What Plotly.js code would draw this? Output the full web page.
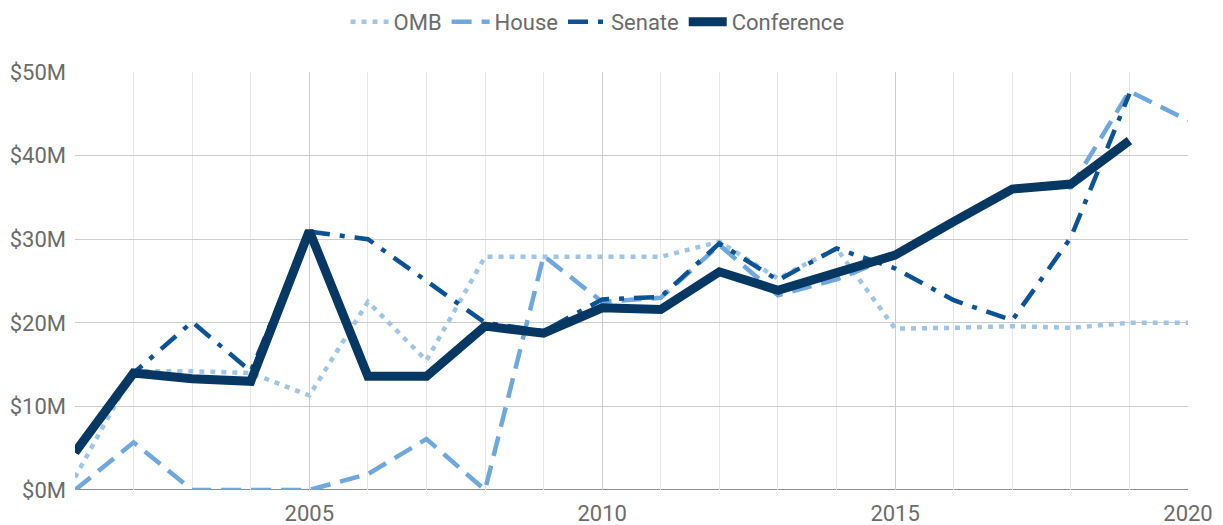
<!DOCTYPE html>
<html>
<head>
<meta charset="utf-8">
<script src="https://cdn.plot.ly/plotly-3.0.1.min.js"></script>
<style>html,body{margin:0;padding:0;background:#fff;}#chart{width:1223px;height:525px;}</style>
</head>
<body>
<div id="chart"></div>
<script>
const years = [2001,2002,2003,2004,2005,2006,2007,2008,2009,2010,2011,2012,2013,2014,2015,2016,2017,2018,2019,2020];
const omb        = [1.5,14.2,14.2,14.0,11.3,22.5,15.5,27.9,27.9,27.9,27.9,29.7,25.3,28.9,19.3,19.4,19.6,19.4,20.0,20.0];
const house      = [0,5.7,0,0,0,1.9,6.1,0,28.0,22.5,23.0,29.3,23.3,25.2,28.0,32.0,36.0,36.2,47.7,44.2];
const senate     = [4.5,14.0,20.1,14.2,30.9,30.0,25.0,20.0,19.0,22.8,23.1,29.5,25.1,28.9,26.5,22.7,20.3,30.2,47.4,null];
const conference = [4.5,14.0,13.3,13.0,31.0,13.6,13.6,19.6,18.75,21.8,21.6,26.1,23.9,25.9,28.1,32.1,36.0,36.6,41.8,null];
const seriesNames = ['OMB','House','Senate','Conference'];
const yTicks = [0,10,20,30,40,50];
const yTickText = ['$0M','$10M','$20M','$30M','$40M','$50M'];

const traces = [
  {x: years, y: omb, name: seriesNames[0], mode: 'lines', line: {color: '#9fc5e8', width: 4.5, dash: '5px,6px'}},
  {x: years, y: house, name: seriesNames[1], mode: 'lines', line: {color: '#6fa8dc', width: 4.5, dash: '20px,10px'}},
  {x: years, y: senate, name: seriesNames[2], mode: 'lines', line: {color: '#0b5394', width: 4.5, dash: '20px,10px,5px,10px'}},
  {x: years, y: conference, name: seriesNames[3], mode: 'lines', line: {color: '#073763', width: 9}}
];

const layout = {
  width: 1223, height: 525,
  margin: {l: 75, r: 35, t: 72, b: 35},
  paper_bgcolor: '#fff', plot_bgcolor: '#fff',
  font: {family: 'Roboto, sans-serif', size: 22, color: '#6b6b6b'},
  showlegend: true,
  legend: {orientation: 'h', x: 0.4886, xanchor: 'center', xref: 'container', y: 0.998, yref: 'container', yanchor: 'top', font: {size: 22, color: '#6b6b6b'}, itemwidth: 38, traceorder: 'normal'},
  hovermode: false,
  xaxis: {
    range: [2001, 2020], tick0: 2000, dtick: 5, showgrid: true, gridcolor: '#cccccc', gridwidth: 1,
    minor: {dtick: 1, showgrid: true, gridcolor: '#e6e6e6', gridwidth: 1},
    showline: false, zeroline: false, ticks: '', tickfont: {size: 22, color: '#6b6b6b'}, ticklabelstandoff: 8
  },
  yaxis: {
    range: [0, 50], tickvals: yTicks, ticktext: yTickText, showgrid: true, gridcolor: '#cccccc',
    zeroline: false, showline: false, ticks: '', tickfont: {size: 22, color: '#6b6b6b'}, ticklabelstandoff: 8
  },
  shapes: [
    {type: 'line', xref: 'paper', yref: 'y', x0: 0, x1: 1, y0: 0, y1: 0, line: {color: '#666', width: 1.5}, layer: 'below'}
  ]
};

Plotly.newPlot('chart', traces, layout, {displayModeBar: false, staticPlot: true});
</script>
</body>
</html>
